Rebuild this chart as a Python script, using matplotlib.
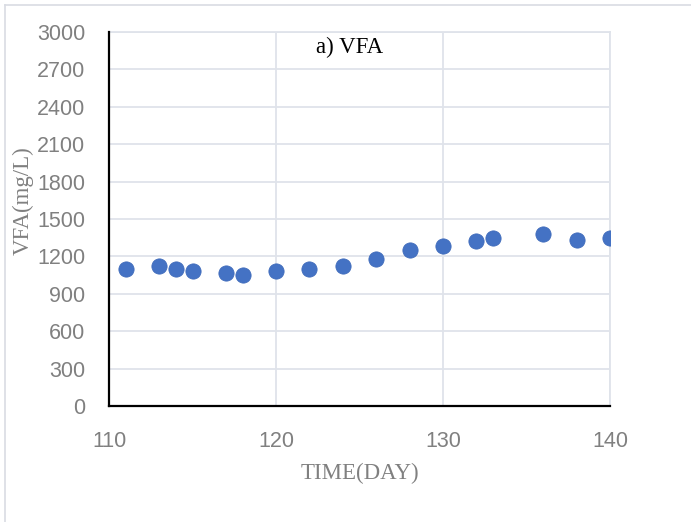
import matplotlib
matplotlib.use("Agg")
import matplotlib.pyplot as plt
from matplotlib.lines import Line2D

# VFA concentration over the operating days
days = [111, 113, 114, 115, 117, 118, 120, 122, 124, 126, 128, 130, 132, 133, 136, 138, 140]
vfa = [1100, 1120, 1100, 1080, 1070, 1050, 1080, 1100, 1120, 1180, 1250, 1280, 1320, 1350, 1380, 1330, 1350]

x_ticks = [110, 120, 130, 140]
y_ticks = list(range(0, 3001, 300))

W, H = 691, 522
fig = plt.figure(figsize=(W / 100, H / 100), dpi=100)
fig.patch.set_facecolor("white")

# chart-area frame (top and left edges visible)
frame_col = "#d9dce3"
fig.add_artist(Line2D([5 / W, 1.0], [1 - 5 / H, 1 - 5 / H], transform=fig.transFigure,
                      color=frame_col, lw=1.2))
fig.add_artist(Line2D([5 / W, 5 / W], [0.0, 1 - 5 / H], transform=fig.transFigure,
                      color=frame_col, lw=1.2))

ax = fig.add_axes([109 / W, (H - 406) / H, (610 - 109) / W, (406 - 32) / H])
ax.set_xlim(110, 140)
ax.set_ylim(0, 3000)
ax.set_xticks(x_ticks)
ax.set_yticks(y_ticks)

grid_col = "#dfe3ea"
ax.grid(True, color=grid_col, lw=1.3)
ax.set_axisbelow(True)
for side in ("top", "right"):
    ax.spines[side].set_visible(False)
for side in ("left", "bottom"):
    ax.spines[side].set_color("black")
    ax.spines[side].set_linewidth(1.6)
# outer gridlines at the top and right limits
ax.axhline(3000, color=grid_col, lw=1.3, zorder=0.5, clip_on=False)
ax.axvline(140, color=grid_col, lw=1.3, zorder=0.5, clip_on=False)

tick_font = ["Liberation Sans", "DejaVu Sans"]
ax.tick_params(axis="both", length=0, labelsize=15.5, labelcolor="#808080")
ax.tick_params(axis="y", pad=17)
ax.tick_params(axis="x", pad=18)
for lab in ax.get_xticklabels() + ax.get_yticklabels():
    lab.set_family(tick_font)

ax.scatter(days, vfa, s=120, color="#4472C4", edgecolors="#3f6bbb", linewidths=0.6, zorder=3)

serif = ["Liberation Serif", "DejaVu Serif"]
ax.text(0.48, 0.96, "a) VFA", transform=ax.transAxes, ha="center", va="center",
        fontsize=16.5, family=serif, color="black")
ax.set_xlabel("TIME(DAY)", fontsize=16.5, family=serif, color="#808080", labelpad=8)
ax.set_ylabel("VFA(mg/L)", fontsize=16.5, family=serif, color="#808080")
ax.yaxis.set_label_coords(-0.15, 0.55)

fig.savefig("out.png", dpi=100)
